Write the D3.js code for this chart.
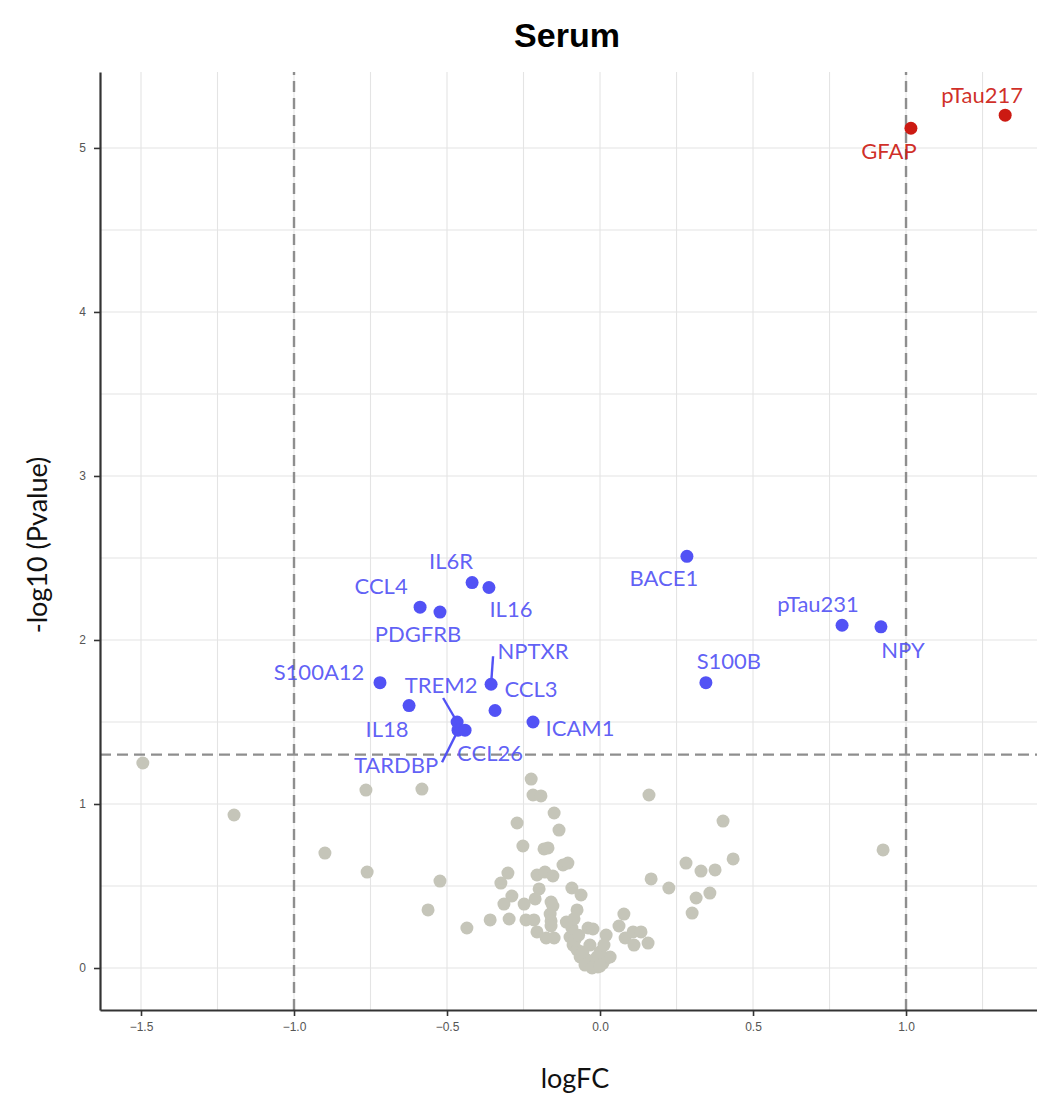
<html lang="en">
<head>
    <meta charset="UTF-8">
    <title>Serum volcano</title>
    <script src="https://cdn.jsdelivr.net/npm/d3@7"></script>
    <style>
        body { margin: 0; background: white; }
    </style>
</head>
<body>
<script>
    // labelled genes (p < 0.05)
    let genes = ["pTau217", "GFAP", "BACE1", "IL6R", "IL16", "CCL4", "PDGFRB", "pTau231", "NPY",
                 "S100A12", "NPTXR", "S100B", "IL18", "CCL3", "TREM2", "ICAM1", "TARDBP", "CCL26"]
    let logFC = [1.324, 1.016, 0.284, -0.418, -0.363, -0.588, -0.523, 0.791, 0.918,
                 -0.719, -0.356, 0.346, -0.624, -0.343, -0.467, -0.219, -0.464, -0.441]
    let negLogP = [5.20, 5.12, 2.51, 2.35, 2.32, 2.20, 2.17, 2.09, 2.08,
                   1.74, 1.73, 1.74, 1.60, 1.57, 1.50, 1.50, 1.45, 1.45]

    // the rest (not significant), [logFC, -log10 p]
    let background = [
        [-1.494,1.250],[-1.196,0.933],[-0.765,1.085],[-0.582,1.091],[-0.899,0.701],[-0.761,0.585],[-0.523,0.530],[-0.562,0.354],
        [-0.225,1.152],[-0.219,1.055],[-0.193,1.049],[0.160,1.055],[-0.150,0.945],[-0.134,0.841],[-0.271,0.884],[-0.252,0.744],
        [-0.183,0.726],[-0.170,0.732],[-0.121,0.628],[-0.105,0.640],[-0.301,0.579],[-0.324,0.518],[-0.206,0.567],[-0.180,0.585],
        [-0.154,0.561],[-0.199,0.482],[-0.092,0.488],[-0.062,0.445],[-0.288,0.439],[-0.314,0.390],[-0.212,0.421],[-0.248,0.390],
        [-0.160,0.402],[-0.154,0.378],[-0.075,0.354],[-0.435,0.244],[-0.359,0.293],[-0.297,0.299],[-0.242,0.293],[-0.216,0.293],
        [-0.163,0.329],[-0.160,0.287],[-0.160,0.256],[-0.206,0.220],[-0.176,0.183],[-0.150,0.183],[-0.092,0.244],[-0.098,0.189],
        [-0.088,0.140],[-0.075,0.110],[-0.065,0.067],[-0.042,0.049],[-0.033,0.140],[-0.039,0.244],[-0.023,0.238],[-0.010,0.067],
        [-0.016,0.030],[-0.007,0.006],[0.010,0.030],[0.023,0.061],[0.033,0.067],[0.020,0.201],[0.078,0.329],[0.062,0.256],
        [0.082,0.183],[0.108,0.220],[0.134,0.220],[0.111,0.140],[0.157,0.152],[0.167,0.543],[0.225,0.488],[0.281,0.640],
        [0.330,0.591],[0.376,0.598],[0.435,0.665],[0.402,0.896],[0.314,0.427],[0.359,0.457],[0.301,0.335],[0.925,0.720],
        [-0.082,0.171],[-0.056,0.098],[0.000,0.098],[0.013,0.140],[-0.049,0.018],[-0.026,0.000],[0.000,0.012],[-0.070,0.200],
        [-0.085,0.300],[-0.110,0.280]
    ]

    let xTicks = [-1.5, -1.0, -0.5, 0.0, 0.5, 1.0]
    let yTicks = [0, 1, 2, 3, 4, 5]
    let fcCut = 1
    let pCut = -Math.log10(0.05)

    let width = 1037, height = 1098
    let margin = {left: 100, right: 0, top: 72, bottom: 88}

    let svg = d3.select('body').append('svg')
        .attr('width', width)
        .attr('height', height)

    let x = d3.scaleLinear().domain([-1.634, 1.428]).range([margin.left, width - margin.right])
    let y = d3.scaleLinear().domain([-0.256, 5.463]).range([height - margin.bottom, margin.top])

    // grid, major + minor look the same
    svg.append('g').selectAll('line')
        .data(d3.range(-1.5, 1.5, 0.25))
        .enter().append('line')
        .attr('x1', function (d) { return x(d) })
        .attr('x2', function (d) { return x(d) })
        .attr('y1', y.range()[0])
        .attr('y2', y.range()[1])
        .attr('stroke', '#e4e4e4')
        .attr('stroke-width', 1.1)
    svg.append('g').selectAll('line')
        .data(d3.range(0, 5.5, 0.5))
        .enter().append('line')
        .attr('y1', function (d) { return y(d) })
        .attr('y2', function (d) { return y(d) })
        .attr('x1', x.range()[0])
        .attr('x2', x.range()[1])
        .attr('stroke', '#e4e4e4')
        .attr('stroke-width', 1.1)

    // threshold lines
    let dash = svg.append('g')
        .attr('stroke', '#8e8e8e')
        .attr('stroke-width', 2.4)
        .attr('stroke-dasharray', '11,6')
    dash.selectAll('line.v')
        .data([-fcCut, fcCut])
        .enter().append('line')
        .attr('class', 'v')
        .attr('x1', function (d) { return x(d) })
        .attr('x2', function (d) { return x(d) })
        .attr('y1', y.range()[0])
        .attr('y2', y.range()[1])
    dash.append('line')
        .attr('x1', x.range()[0])
        .attr('x2', x.range()[1])
        .attr('y1', y(pCut))
        .attr('y2', y(pCut))

    // axes
    let xAxis = svg.append('g')
        .attr('transform', 'translate(0,' + y.range()[0] + ')')
        .call(d3.axisBottom(x).tickValues(xTicks).tickFormat(d3.format('.1f'))
            .tickSize(6).tickSizeOuter(0).tickPadding(6))
    let yAxis = svg.append('g')
        .attr('transform', 'translate(' + x.range()[0] + ',0)')
        .call(d3.axisLeft(y).tickValues(yTicks).tickFormat(d3.format('d'))
            .tickSize(6).tickSizeOuter(0).tickPadding(8))
    xAxis.select('.domain').attr('stroke', '#333').attr('stroke-width', 2.2)
    yAxis.select('.domain').attr('stroke', '#333').attr('stroke-width', 2.2)
    svg.selectAll('.tick line').attr('stroke', '#333').attr('stroke-width', 1.6)
    svg.selectAll('.tick text')
        .attr('fill', '#555')
        .style('font-family', 'Liberation Sans, Arial, sans-serif')
        .style('font-size', '12px')

    // points
    let bgColor = '#c5c5b9'
    let blue = '#5252f5'
    let red = '#cc1a12'
    function colorOf(i) { return logFC[i] > fcCut ? red : blue }

    svg.append('g').selectAll('circle')
        .data(background)
        .enter().append('circle')
        .attr('cx', function (d) { return x(d[0]) })
        .attr('cy', function (d) { return y(d[1]) })
        .attr('r', 6.5)
        .attr('fill', bgColor)

    let sig = genes.map(function (g, i) { return {name: g, fc: logFC[i], p: negLogP[i], i: i} })

    // label nudges (pixels from the point, text baseline), like ggrepel put them
    let nudge = {
        "pTau217": [-23, -12], "GFAP": [-22, 31], "BACE1": [-23, 30], "IL6R": [-21, -14],
        "IL16": [22, 30], "CCL4": [-39, -13], "PDGFRB": [-22, 30], "pTau231": [-24, -13],
        "NPY": [22, 31], "S100A12": [-61, -3], "NPTXR": [42, -25], "S100B": [23, -14],
        "IL18": [-22, 31], "CCL3": [36, -14], "TREM2": [-16, -29], "ICAM1": [47, 14],
        "TARDBP": [-62, 43], "CCL26": [25, 31]
    }
    let segEnd = {"NPTXR": [2, -28], "TREM2": [-14, -24], "TARDBP": [-16, 32]}

    svg.append('g').selectAll('line')
        .data(sig.filter(function (d) { return segEnd[d.name] }))
        .enter().append('line')
        .attr('x1', function (d) { return x(d.fc) })
        .attr('y1', function (d) { return y(d.p) })
        .attr('x2', function (d) { return x(d.fc) + segEnd[d.name][0] })
        .attr('y2', function (d) { return y(d.p) + segEnd[d.name][1] })
        .attr('stroke', function (d) { return colorOf(d.i) })
        .attr('stroke-width', 2.4)

    svg.append('g').selectAll('circle')
        .data(sig)
        .enter().append('circle')
        .attr('cx', function (d) { return x(d.fc) })
        .attr('cy', function (d) { return y(d.p) })
        .attr('r', 6.5)
        .attr('fill', function (d) { return colorOf(d.i) })

    svg.append('g').selectAll('text')
        .data(sig)
        .enter().append('text')
        .attr('x', function (d) { return x(d.fc) + nudge[d.name][0] })
        .attr('y', function (d) { return y(d.p) + nudge[d.name][1] })
        .attr('text-anchor', 'middle')
        .attr('fill', function (d) { return colorOf(d.i) })
        .attr('fill-opacity', 0.92)
        .style('font-family', 'Lato, "Noto Sans", sans-serif')
        .style('font-size', '22px')
        .text(function (d) { return d.name })

    // titles
    svg.append('text')
        .attr('x', 567)
        .attr('y', 47)
        .attr('text-anchor', 'middle')
        .style('font-family', 'Liberation Sans, Arial, sans-serif')
        .style('font-weight', 'bold')
        .style('font-size', '34px')
        .text('Serum')
    svg.append('text')
        .attr('x', 575)
        .attr('y', 1088)
        .attr('text-anchor', 'middle')
        .style('font-family', 'Lato, "Noto Sans", sans-serif')
        .style('font-size', '27px')
        .attr('fill', '#111')
        .text('logFC')
    svg.append('text')
        .attr('transform', 'translate(47,545) rotate(-90)')
        .attr('text-anchor', 'middle')
        .style('font-family', 'Lato, "Noto Sans", sans-serif')
        .style('font-size', '27px')
        .attr('fill', '#111')
        .text('-log10 (Pvalue)')
</script>
</body>
</html>
